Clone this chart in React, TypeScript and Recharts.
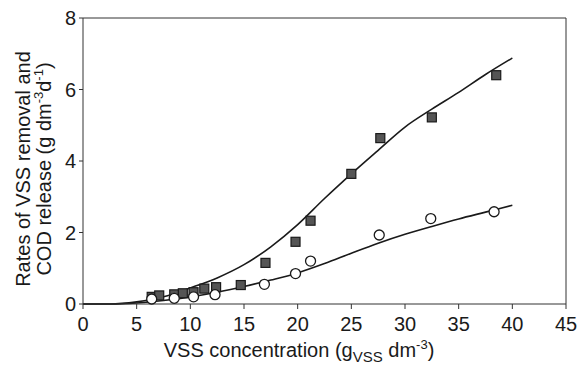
import {
  ComposedChart,
  Label,
  Line,
  ReferenceLine,
  Scatter,
  XAxis,
  YAxis,
} from "recharts";

// fitted model curves
const fitX = [0, 2.5, 5, 7.5, 10, 12.5, 15, 17.5, 20, 22.5, 25, 27.5, 30, 32.5, 35, 37.5, 40];
const removalFit = [0, 0, 0.06, 0.2, 0.45, 0.73, 1.1, 1.6, 2.22, 2.95, 3.64, 4.3, 4.95, 5.45, 5.92, 6.42, 6.88];
const releaseFit = [0, 0, 0.03, 0.1, 0.2, 0.33, 0.49, 0.67, 0.87, 1.13, 1.42, 1.7, 1.95, 2.17, 2.38, 2.57, 2.76];

// measured: VSS removal (squares)
const removalX = [6.4, 7.1, 8.5, 9.3, 10.3, 11.3, 12.4, 14.7, 17.0, 19.8, 21.2, 25.0, 27.7, 32.5, 38.5];
const removalY = [0.2, 0.24, 0.27, 0.3, 0.33, 0.43, 0.47, 0.53, 1.15, 1.74, 2.33, 3.64, 4.64, 5.22, 6.4];

// measured: COD release (circles)
const releaseX = [6.4, 8.5, 10.3, 12.3, 16.9, 19.8, 21.2, 27.6, 32.4, 38.3];
const releaseY = [0.14, 0.16, 0.2, 0.26, 0.55, 0.85, 1.2, 1.93, 2.39, 2.58];

const xTicks = [0, 5, 10, 15, 20, 25, 30, 35, 40, 45];
const yTicks = [0, 2, 4, 6, 8];

const removalFitData = fitX.map((x, i) => ({ x, y: removalFit[i] }));
const releaseFitData = fitX.map((x, i) => ({ x, y: releaseFit[i] }));
const removalData = removalX.map((x, i) => ({ x, y: removalY[i] }));
const releaseData = releaseX.map((x, i) => ({ x, y: releaseY[i] }));

const FONT = "'Liberation Sans', Arial, sans-serif";
const INK = "#1a1a1a";

const SquareDot = (props: any) => {
  const { cx, cy } = props;
  if (cx == null || cy == null) return null;
  return (
    <rect
      x={cx - 4.5}
      y={cy - 4.5}
      width={9}
      height={9}
      fill="#555"
      stroke="#1a1a1a"
      strokeWidth={1.2}
    />
  );
};

const CircleDot = (props: any) => {
  const { cx, cy } = props;
  if (cx == null || cy == null) return null;
  return <circle cx={cx} cy={cy} r={5} fill="#fff" stroke={INK} strokeWidth={1.3} />;
};

const XTitle = () => (
  <text x={299} y={357} textAnchor="middle" fontSize={20} fill={INK} fontFamily={FONT}>
    VSS concentration (g
    <tspan fontSize={15} dy={5}>VSS</tspan>
    <tspan dy={-5}> dm</tspan>
    <tspan fontSize={13} dy={-8}>-3</tspan>
    <tspan dy={8}>)</tspan>
  </text>
);

// two-line rotated title, centred at y=169
const YTitle = () => (
  <g transform="rotate(-90, 40, 169)" fontFamily={FONT} fontSize={20} fill={INK}>
    <text x={40} y={159} textAnchor="middle">
      Rates of VSS removal and
    </text>
    <text x={40} y={180} textAnchor="middle">
      COD release (g dm
      <tspan fontSize={13} dy={-8}>-3</tspan>
      <tspan dy={8}>d</tspan>
      <tspan fontSize={13} dy={-8}>-1</tspan>
      <tspan dy={8}>)</tspan>
    </text>
  </g>
);

export default function App() {
  return (
    <div style={{ position: "absolute", left: 0, top: 0, background: "#fff" }}>
      <ComposedChart
        width={581}
        height={366}
        margin={{ top: 18, right: 15, bottom: 12, left: 43 }}
      >
        <XAxis
          dataKey="x"
          type="number"
          domain={[0, 45]}
          ticks={xTicks}
          interval={0}
          height={50}
          tickSize={5}
          tickMargin={8}
          stroke="#333"
          tick={{ fontSize: 20, fill: INK, fontFamily: FONT }}
        >
          <Label content={<XTitle />} />
        </XAxis>
        <YAxis
          dataKey="y"
          type="number"
          domain={[0, 8]}
          ticks={yTicks}
          interval={0}
          width={40}
          tickSize={4}
          tickMargin={3}
          stroke="#333"
          tick={{ fontSize: 20, fill: INK, fontFamily: FONT }}
        >
          <Label content={<YTitle />} />
        </YAxis>
        <ReferenceLine y={8} stroke="#333" strokeWidth={1} />
        <ReferenceLine x={45} stroke="#333" strokeWidth={1} />
        <Line
          data={removalFitData}
          dataKey="y"
          type="monotone"
          stroke={INK}
          strokeWidth={1.6}
          dot={false}
          activeDot={false}
          isAnimationActive={false}
        />
        <Line
          data={releaseFitData}
          dataKey="y"
          type="monotone"
          stroke={INK}
          strokeWidth={1.6}
          dot={false}
          activeDot={false}
          isAnimationActive={false}
        />
        <Scatter data={removalData} dataKey="y" shape={<SquareDot />} isAnimationActive={false} />
        <Scatter data={releaseData} dataKey="y" shape={<CircleDot />} isAnimationActive={false} />
      </ComposedChart>
    </div>
  );
}
